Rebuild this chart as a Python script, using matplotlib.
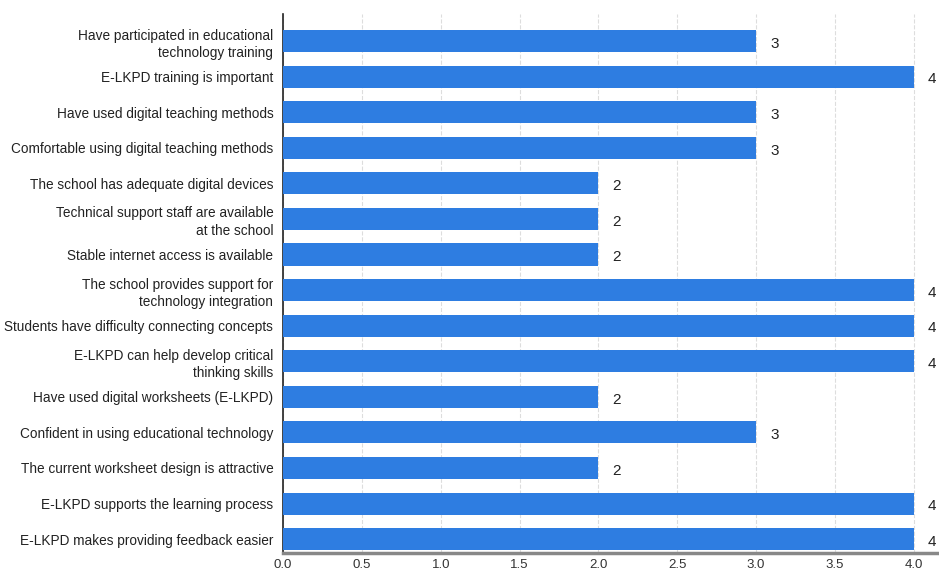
import matplotlib.pyplot as plt
import numpy as np

plt.rcParams['font.family'] = ['Liberation Sans', 'DejaVu Sans']

statements = [
    'Have participated in educational\ntechnology training',
    'E-LKPD training is important',
    'Have used digital teaching methods',
    'Comfortable using digital teaching methods',
    'The school has adequate digital devices',
    'Technical support staff are available\nat the school',
    'Stable internet access is available',
    'The school provides support for\ntechnology integration',
    'Students have difficulty connecting concepts',
    'E-LKPD can help develop critical\nthinking skills',
    'Have used digital worksheets (E-LKPD)',
    'Confident in using educational technology',
    'The current worksheet design is attractive',
    'E-LKPD supports the learning process',
    'E-LKPD makes providing feedback easier',
]
scores = [3, 4, 3, 3, 2, 2, 2, 4, 4, 4, 2, 3, 2, 4, 4]

fig = plt.figure(figsize=(9.39, 5.69), dpi=100)
ax = fig.add_axes([0.3014, 0.0281, 0.6986, 0.9473])

ind = np.arange(len(statements))
bars = ax.barh(ind, scores, height=0.62, color='#2E7DE1', zorder=3)

for b, v in zip(bars, scores):
    ax.annotate(str(v), (b.get_width(), b.get_y() + b.get_height() / 2),
                xytext=(10, -2), textcoords='offset points',
                ha='left', va='center', fontsize=11, color='#222222')

ax.set_yticks(ind)
ax.set_yticklabels(statements, fontsize=9.8, color='#222222', linespacing=1.3)
ax.tick_params(axis='y', length=0, pad=7)
ax.set_xticks(np.arange(0, 4.01, 0.5))
ax.set_xticklabels(['%.1f' % t for t in np.arange(0, 4.01, 0.5)], fontsize=9.5, color='#333333')
ax.tick_params(axis='x', length=0, pad=4)

ax.set_xlim(0, 4.16)
ax.set_ylim(len(statements) - 1 + 0.39, -0.76)

ax.grid(axis='x', linestyle='--', color='#dddddd', linewidth=0.8, zorder=0)
ax.spines['top'].set_visible(False)
ax.spines['right'].set_visible(False)
ax.spines['left'].set_color('#222222')
ax.spines['left'].set_linewidth(1.2)
ax.spines['bottom'].set_color('#888888')
ax.spines['bottom'].set_linewidth(2.5)

fig.savefig('out.png', dpi=100)
